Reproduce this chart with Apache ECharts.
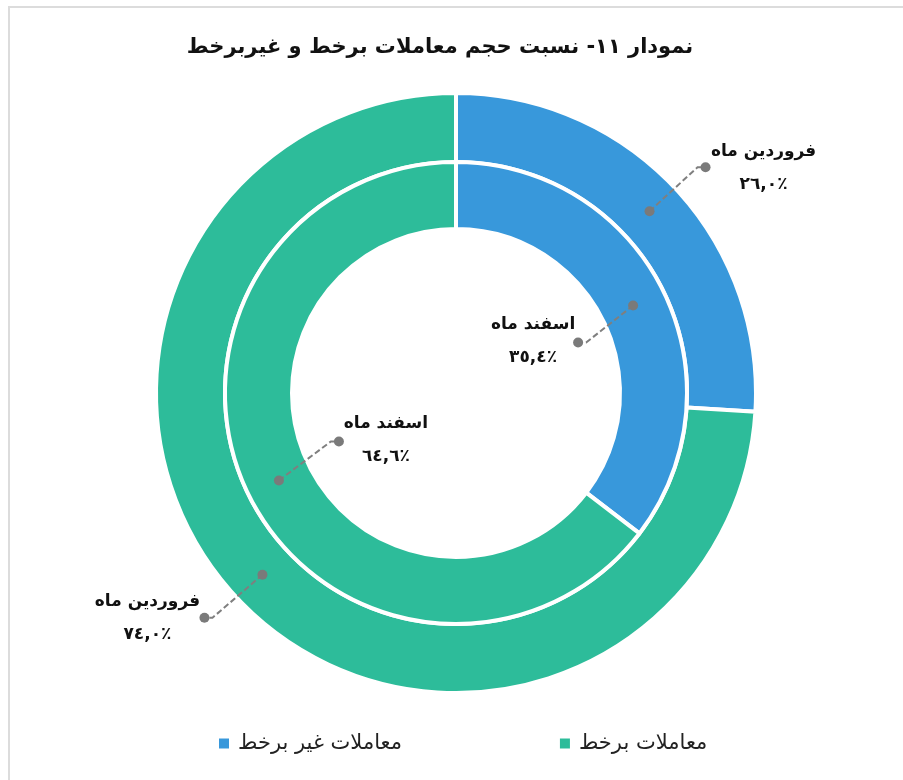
<!DOCTYPE html>
<html>
<head>
<meta charset="utf-8">
<script src="https://cdn.jsdelivr.net/npm/echarts@6/dist/echarts.min.js"></script>
<style>
  html, body { margin: 0; padding: 0; background: #fff; }
  #chart { width: 903px; height: 780px; }
</style>
</head>
<body>
<div id="chart"></div>
<script>
// data
const categories = ["معاملات غیر برخط", "معاملات برخط"];
const ringNames = ["فروردین ماه", "اسفند ماه"]; // outer, inner
const outerValues = [26.0, 74.0];
const innerValues = [35.4, 64.6];

const colors = ["#3898db", "#2dbc9a"];
const CX = 456, CY = 393;
const outerRadius = [231, 300];
const innerRadius = [164, 231];
const FONT = "DejaVu Sans";

// leader line offsets (from the dot on the ring to the end dot) per ring / item
const leaderOffsets = [
  [[56, -44], [-58, 43]],
  [[-55, 37], [60, -39]]
];
// text centre offset from the end dot
const textOffsets = [
  [[58, 1], [-57, 0]],
  [[-45, -1], [47, -1]]
];

function arabicDigits(s) {
  return s.replace(/[0-9]/g, d => String.fromCharCode(0x0660 + Number(d)));
}
function pctText(v) {
  return arabicDigits(v.toFixed(1).replace(".", ",")) + "٪";
}

// label anchor data: [mid radius, mid percent, ring, item, value]
function buildLabels(values, ring, radius) {
  let acc = 0;
  const total = values.reduce((a, b) => a + b, 0);
  return values.map((v, i) => {
    const mid = (acc + v / 2) / total * 100;
    acc += v;
    return [(radius[0] + radius[1]) / 2, mid, ring, i, v];
  });
}
const labelData = buildLabels(outerValues, 0, outerRadius).concat(buildLabels(innerValues, 1, innerRadius));

let chart = echarts.init(document.getElementById("chart"));
let option = {
  backgroundColor: "#fff",
  color: colors,
  animation: false,
  title: {
    text: "نمودار ۱۱- نسبت حجم معاملات برخط و غیربرخط",
    left: 435,
    top: 32,
    textAlign: "center",
    textStyle: {
      fontFamily: FONT,
      fontSize: 21,
      fontWeight: "bold",
      color: "#111"
    }
  },
  legend: {
    data: categories,
    left: 212,
    top: 728,
    icon: "rect",
    itemWidth: 12,
    itemHeight: 12,
    itemGap: 156,
    textStyle: {
      fontFamily: FONT,
      fontSize: 21,
      color: "#222",
      padding: [0, 0, 0, 3]
    }
  },
  polar: { center: [CX, CY], radius: 300 },
  angleAxis: { type: "value", min: 0, max: 100, startAngle: 90, clockwise: true, show: false },
  radiusAxis: { type: "value", min: 0, max: 300, show: false },
  graphic: [
    {
      type: "rect",
      shape: { x: 9, y: 7, width: 1000, height: 1000 },
      style: { fill: "none", stroke: "#dcdcdc", lineWidth: 2 },
      silent: true
    }
  ],
  series: [
    {
      name: ringNames[0],
      type: "pie",
      center: [CX, CY],
      radius: outerRadius,
      startAngle: 90,
      label: { show: false },
      labelLine: { show: false },
      emphasis: { disabled: true },
      itemStyle: { borderColor: "#fff", borderWidth: 4 },
      data: categories.map((c, i) => ({ name: c, value: outerValues[i] }))
    },
    {
      name: ringNames[1],
      type: "pie",
      center: [CX, CY],
      radius: innerRadius,
      startAngle: 90,
      label: { show: false },
      labelLine: { show: false },
      emphasis: { disabled: true },
      itemStyle: { borderColor: "#fff", borderWidth: 4 },
      data: categories.map((c, i) => ({ name: c, value: innerValues[i] }))
    },
    {
      type: "custom",
      coordinateSystem: "polar",
      z: 5,
      silent: true,
      data: labelData,
      renderItem: function (params, api) {
        const ring = api.value(2), item = api.value(3);
        const p = api.coord([api.value(0), api.value(1)]);
        const off = leaderOffsets[ring][item];
        const end = [p[0] + off[0], p[1] + off[1]];
        const knee = [end[0] - Math.sign(off[0]) * 8, end[1]];
        const t = textOffsets[ring][item];
        return {
          type: "group",
          children: [
            {
              type: "polyline",
              shape: { points: [p, knee, end] },
              style: { stroke: "#7f7f7f", lineWidth: 2, lineDash: [6, 3], fill: null }
            },
            { type: "circle", shape: { cx: p[0], cy: p[1], r: 5 }, style: { fill: "#7a7a7a" } },
            { type: "circle", shape: { cx: end[0], cy: end[1], r: 5 }, style: { fill: "#7a7a7a" } },
            {
              type: "text",
              style: {
                text: ringNames[ring] + "\n" + pctText(api.value(4)),
                x: end[0] + t[0],
                y: end[1] + t[1],
                align: "center",
                verticalAlign: "middle",
                fontFamily: FONT,
                fontSize: 17,
                fontWeight: "bold",
                lineHeight: 33,
                fill: "#111"
              }
            }
          ]
        };
      }
    }
  ]
};
chart.setOption(option);
</script>
</body>
</html>
